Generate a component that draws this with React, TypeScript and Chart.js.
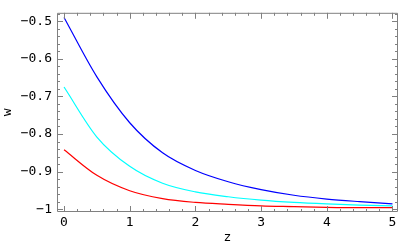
import React, { useEffect, useRef } from "react";
import { Chart, registerables } from "chart.js";

Chart.register(...registerables);

const zValues = [0, 0.5, 1, 1.5, 2, 2.5, 3, 3.5, 4, 4.5, 5];
const blueW = [-0.49, -0.648, -0.77, -0.85, -0.897, -0.927, -0.948, -0.963, -0.973, -0.98, -0.986];
const cyanW = [-0.675, -0.808, -0.886, -0.931, -0.954, -0.967, -0.976, -0.982, -0.986, -0.989, -0.991];
const redW = [-0.842, -0.91, -0.951, -0.972, -0.982, -0.987, -0.991, -0.993, -0.995, -0.996, -0.996];
const xTicks = [0, 1, 2, 3, 4, 5];
const yTicks = [-1, -0.9, -0.8, -0.7, -0.6, -0.5];
const xMinorStep = 0.2;
const yMinorStep = 0.02;

const FRAME = "#808080";
const FONT = "'DejaVu Sans Mono', monospace";

const fmt = (v: number) => String(Number(v.toFixed(2))).replace("-", "\u2212");

const framePlugin = {
  id: "framePlugin",
  afterDatasetsDraw(chart: any) {
    const { ctx, chartArea } = chart;
    const { left, right, top, bottom } = chartArea;
    const xs = chart.scales.x;
    const ys = chart.scales.y;
    ctx.save();
    ctx.strokeStyle = FRAME;
    ctx.lineWidth = 1;
    ctx.beginPath();
    ctx.rect(left + 0.5, top + 0.5, right - left - 1, bottom - top - 1);
    ctx.stroke();
    const drawX = (v: number, len: number) => {
      const p = Math.round(xs.getPixelForValue(v)) + 0.5;
      if (p < left + 1 || p > right - 1) return;
      ctx.moveTo(p, bottom);
      ctx.lineTo(p, bottom - len);
      ctx.moveTo(p, top);
      ctx.lineTo(p, top + len);
    };
    const drawY = (v: number, len: number) => {
      const p = Math.round(ys.getPixelForValue(v)) + 0.5;
      if (p < top + 1 || p > bottom - 1) return;
      ctx.moveTo(left, p);
      ctx.lineTo(left + len, p);
      ctx.moveTo(right, p);
      ctx.lineTo(right - len, p);
    };
    ctx.beginPath();
    for (let i = -1; i <= 26; i++) {
      const v = i * xMinorStep;
      if (v < xs.min || v > xs.max) continue;
      const major = Math.abs(v - Math.round(v)) < 1e-6;
      drawX(v, major ? 6 : 3);
    }
    for (let i = -51; i <= -23; i++) {
      const v = i * yMinorStep;
      if (v < ys.min || v > ys.max) continue;
      const major = Math.abs(v * 10 - Math.round(v * 10)) < 1e-6;
      drawY(v, major ? 6 : 3);
    }
    ctx.stroke();
    ctx.restore();
  },
};

export default function App() {
  const ref = useRef<HTMLCanvasElement | null>(null);
  useEffect(() => {
    document.body.style.margin = "0";
    const canvas = ref.current;
    if (!canvas) return;
    const mk = (data: number[], color: string) => ({
      data: zValues.map((z, i) => ({ x: z, y: data[i] })),
      borderColor: color,
      borderWidth: 1.2,
      pointRadius: 0,
      fill: false,
      cubicInterpolationMode: "monotone" as const,
    });
    const chart = new Chart(canvas, {
      type: "line",
      data: {
        datasets: [mk(blueW, "rgb(0,0,255)"), mk(cyanW, "rgb(0,255,255)"), mk(redW, "rgb(255,0,0)")],
      },
      options: {
        animation: false,
        responsive: false,
        maintainAspectRatio: false,
        devicePixelRatio: 1,
        layout: { padding: { top: 0, right: 2, bottom: 0, left: 0 } },
        plugins: { legend: { display: false }, tooltip: { enabled: false } },
        scales: {
          x: {
            type: "linear",
            min: -0.107,
            max: 5.084,
            afterBuildTicks: (s: any) => {
              s.ticks = xTicks.map((v) => ({ value: v }));
            },
            afterFit: (s: any) => {
              s.height = 35;
            },
            grid: { display: false, drawTicks: false },
            border: { display: false },
            ticks: {
              padding: 3,
              color: "#000",
              font: { family: FONT, size: 13 },
              callback: (v: any) => fmt(Number(v)),
              maxRotation: 0,
            },
            title: { display: true, text: "z", color: "#000", font: { family: FONT, size: 13 }, padding: { top: 0, bottom: 2 } },
          },
          y: {
            type: "linear",
            min: -1.0075,
            max: -0.4775,
            afterBuildTicks: (s: any) => {
              s.ticks = yTicks.map((v) => ({ value: v }));
            },
            afterFit: (s: any) => {
              s.width = 57;
            },
            grid: { display: false, drawTicks: false },
            border: { display: false },
            ticks: {
              padding: 5,
              color: "#000",
              font: { family: FONT, size: 13 },
              callback: (v: any) => fmt(Number(v)),
            },
            title: { display: true, text: "w", color: "#000", font: { family: FONT, size: 13 }, padding: { top: 0, bottom: 0 } },
          },
        },
      },
      plugins: [framePlugin],
    });
    return () => chart.destroy();
  }, []);
  return (
    <div style={{ width: 400, height: 247 }}>
      <canvas ref={ref} width={400} height={247} style={{ display: "block", width: 400, height: 247 }} />
    </div>
  );
}
